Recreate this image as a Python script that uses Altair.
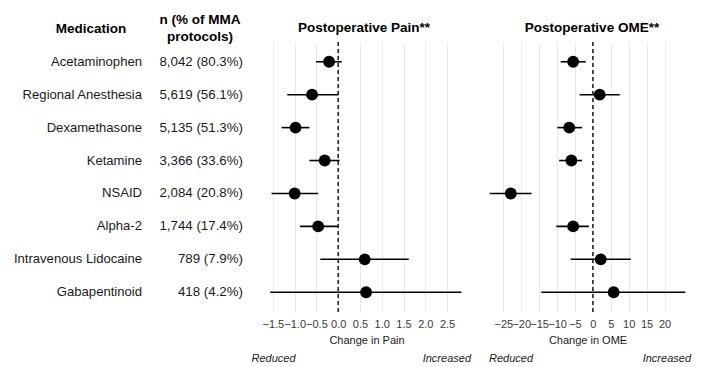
import altair as alt
import pandas as pd

medications = ["Acetaminophen", "Regional Anesthesia", "Dexamethasone", "Ketamine",
               "NSAID", "Alpha-2", "Intravenous Lidocaine", "Gabapentinoid"]
n_labels = ["8,042 (80.3%)", "5,619 (56.1%)", "5,135 (51.3%)", "3,366 (33.6%)",
            "2,084 (20.8%)", "1,744 (17.4%)", "789 (7.9%)", "418 (4.2%)"]

pain_est = [-0.21, -0.60, -0.98, -0.31, -1.00, -0.46, 0.61, 0.64]
pain_lo = [-0.51, -1.17, -1.30, -0.66, -1.53, -0.88, -0.41, -1.56]
pain_hi = [0.08, 0.00, -0.66, 0.03, -0.46, 0.00, 1.62, 2.83]

ome_est = [-5.5, 1.9, -6.6, -6.0, -22.9, -5.5, 2.2, 5.8]
ome_lo = [-9.0, -3.7, -9.9, -9.4, -28.8, -10.2, -6.2, -14.4]
ome_hi = [-2.0, 7.5, -3.0, -3.0, -17.1, -1.1, 10.6, 25.8]

pain_ticks = [-1.5, -1.0, -0.5, 0.0, 0.5, 1.0, 1.5, 2.0, 2.5]
ome_ticks = [-25, -20, -15, -10, -5, 0, 5, 10, 15, 20]

df = pd.DataFrame({
    "Medication": medications, "n": n_labels,
    "pain": pain_est, "pain_lo": pain_lo, "pain_hi": pain_hi,
    "ome": ome_est, "ome_lo": ome_lo, "ome_hi": ome_hi,
})

FONT = "Liberation Sans"
H = 270
yscale = alt.Scale(type="point", padding=0.6)
Y = alt.Y("Medication:N", sort=medications, scale=yscale, axis=None)


def one_text(t):
    return alt.Chart(pd.DataFrame({"t": [t]}))


# ---- table ----
names = alt.Chart(df).mark_text(align="right", baseline="middle", fontSize=13.1,
                                font=FONT, color="#1a1a1a").encode(
    y=Y, x=alt.value(127), text="Medication:N")
ns = alt.Chart(df).mark_text(align="right", baseline="middle", fontSize=13.3,
                             font=FONT, color="#1a1a1a").encode(
    y=Y, x=alt.value(228), text="n:N")
h1 = one_text("Medication").mark_text(align="center", baseline="middle", fontSize=13.5,
                                       fontWeight="bold", font=FONT, color="black").encode(
    x=alt.value(76), y=alt.value(-13), text="t:N")
h2 = one_text("n (% of MMA").mark_text(align="center", baseline="middle", fontSize=13.5,
                                        fontWeight="bold", font=FONT, color="black").encode(
    x=alt.value(185), y=alt.value(-22), text="t:N")
h3 = one_text("protocols)").mark_text(align="center", baseline="middle", fontSize=13.5,
                                       fontWeight="bold", font=FONT, color="black").encode(
    x=alt.value(185), y=alt.value(-5), text="t:N")
table = alt.layer(names, ns, h1, h2, h3).properties(width=238, height=H)


def panel(est, lo, hi, domain, ticks, fmt, title, xtitle, width, title_x, red_x, inc_x):
    xaxis = alt.Axis(values=ticks, format=fmt, grid=True, gridColor="#e8e8e8", gridWidth=1,
                     domain=False, ticks=False, labelFont=FONT, labelFontSize=11,
                     labelColor="#3a3a3a", labelPadding=6, labelFlush=False,
                     labelOverlap=False,
                     title=xtitle, titleFont=FONT, titleFontSize=11, titleFontWeight="normal",
                     titleColor="#1a1a1a", titlePadding=5)
    xs = alt.Scale(domain=domain, nice=False, zero=False)
    bars = alt.Chart(df).mark_rule(color="black", strokeWidth=1.6).encode(
        x=alt.X(f"{lo}:Q", scale=xs, axis=xaxis), x2=f"{hi}:Q", y=Y)
    vline = alt.Chart(pd.DataFrame({"z": [0]})).mark_rule(
        color="#1a1a1a", strokeWidth=1.5, strokeDash=[4, 3]).encode(
        x=alt.X("z:Q", scale=xs, axis=xaxis))
    pts = alt.Chart(df).mark_circle(size=140, color="black", opacity=1).encode(
        x=alt.X(f"{est}:Q", scale=xs, axis=xaxis), y=Y)
    ttl = one_text(title).mark_text(align="center", baseline="middle", fontSize=13.5,
                                    fontWeight="bold", font=FONT, color="black").encode(
        x=alt.value(title_x), y=alt.value(-14), text="t:N")
    red = one_text("Reduced").mark_text(align="left", baseline="middle", fontSize=11,
                                        fontStyle="italic", font=FONT, color="#1a1a1a").encode(
        x=alt.value(red_x), y=alt.value(H + 47), text="t:N")
    inc = one_text("Increased").mark_text(align="right", baseline="middle", fontSize=11,
                                          fontStyle="italic", font=FONT, color="#1a1a1a").encode(
        x=alt.value(inc_x), y=alt.value(H + 47), text="t:N")
    return alt.layer(bars, vline, pts, ttl, red, inc).properties(width=width, height=H)


pain = panel("pain", "pain_lo", "pain_hi", [-1.75, 3.05], pain_ticks, ".1f",
             "Postoperative Pain**", "Change in Pain", 209, 102, -10.5, 209)
ome = panel("ome", "ome_lo", "ome_hi", [-31.5, 28.5], ome_ticks, "d",
            "Postoperative OME**", "Change in OME", 215, 112, 9, 211)

chart = alt.hconcat(table, pain, ome, spacing=9, bounds="flush").properties(
    padding={"left": 5, "top": 5, "right": 5, "bottom": 0}
).configure_view(stroke=None).configure_axis(labelOverlap=False)

chart.save("out.html", embed_options={"renderer": "svg", "actions": False})
